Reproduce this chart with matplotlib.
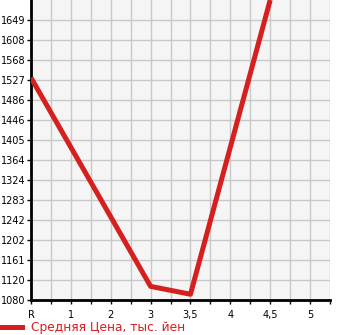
import numpy as np
import matplotlib
matplotlib.use("Agg")
import matplotlib.pyplot as plt
from matplotlib.lines import Line2D

# категории пробега и средняя цена (тыс. йен), пропуски = нет данных
categories = ["R", "1", "2", "3", "3,5", "4", "4,5", "5"]
prices = [1532, np.nan, np.nan, 1108, 1092, np.nan, 1690, np.nan]
legend_label = "Средняя Цена, тыс. йен"

y_labels = ["1080", "1120", "1161", "1202", "1242", "1283", "1324", "1364",
            "1405", "1446", "1486", "1527", "1568", "1608", "1649"]
y_min = 1080.34
y_step = 40.64

red = "#d61f1f"

plt.rcParams['font.family'] = 'DejaVu Sans'
plt.rcParams['font.size'] = 7

fig = plt.figure(figsize=(3.45, 3.35), dpi=100)
ax = fig.add_axes([31 / 345, 35 / 335, 299 / 345, 300 / 335])
ax.set_facecolor("#f5f5f5")

x = np.arange(len(categories))
y = np.array(prices, dtype=float)
ok = ~np.isnan(y)
ax.plot(x[ok], y[ok], color=red, lw=3.6, solid_capstyle="butt", zorder=3)

ax.set_xlim(0, len(categories) - 0.5)
ax.set_ylim(y_min, y_min + len(y_labels) * y_step)

ax.set_xticks(x)
ax.set_xticklabels(categories)
ax.set_xticks(x + 0.5, minor=True)

yt = y_min + y_step * np.arange(len(y_labels))
ax.set_yticks(yt)
ax.set_yticklabels(y_labels)

ax.grid(True, which="both", color="#c8c8c8", lw=1.0)
ax.set_axisbelow(True)

for s in ["top", "right"]:
    ax.spines[s].set_visible(False)
for s in ["left", "bottom"]:
    ax.spines[s].set_linewidth(2)
    ax.spines[s].set_color("black")

ax.tick_params(axis="x", which="both", direction="out", length=3, width=1, pad=4, colors="black")
ax.tick_params(axis="y", which="both", direction="out", length=3, width=1, pad=1, colors="black")

h = Line2D([0], [0], color=red, lw=3.6)
fig.legend([h], [legend_label], loc="center left", bbox_to_anchor=(0, 7 / 335),
           frameon=False, handlelength=1.8, handletextpad=0.74, fontsize=8.8,
           labelcolor=red, borderaxespad=0, borderpad=0)

fig.savefig("out.png", dpi=100)
